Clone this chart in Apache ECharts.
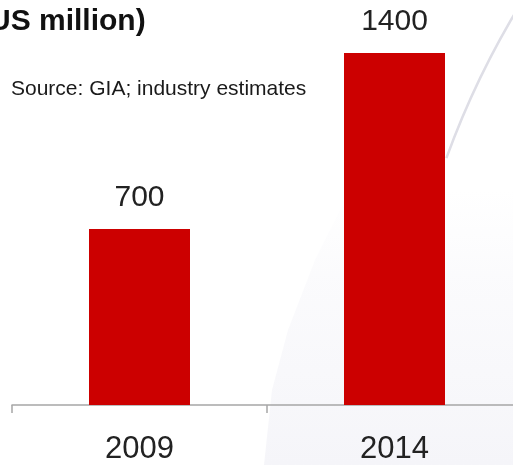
<!DOCTYPE html>
<html>
<head>
<meta charset="utf-8">
<script src="https://cdn.jsdelivr.net/npm/echarts@6/dist/echarts.min.js"></script>
<style>
html,body{margin:0;padding:0;background:#fff;overflow:hidden;}
#chart{width:522px;height:465px;}
</style>
</head>
<body>
<div id="chart"></div>
<script>
const categories = ['2009', '2014'];
const values = [700, 1400];
const titleText = '(US million)';
const sourceText = 'Source: GIA; industry estimates';

const FONT = "'Liberation Sans', Arial, sans-serif";
const chart = echarts.init(document.getElementById('chart'), null, {renderer: 'canvas'});

chart.setOption({
  backgroundColor: '#ffffff',
  animation: false,
  title: [
    {
      text: titleText,
      left: -26,
      top: 2,
      textStyle: {fontFamily: FONT, fontSize: 30, fontWeight: 'bold', color: '#111111'}
    },
    {
      text: sourceText,
      left: 6,
      top: 74,
      textStyle: {fontFamily: FONT, fontSize: 21, fontWeight: 'normal', color: '#1a1a1a'}
    }
  ],
  graphic: [
    {
      type: 'polygon',
      z: -10,
      silent: true,
      shape: {points: [[350, 190], [315, 260], [288, 330], [272, 390], [264, 465], [530, 465], [530, 190]]},
      style: {
        fill: new echarts.graphic.LinearGradient(0, 0, 0, 1, [
          {offset: 0, color: 'rgba(246,246,250,0)'},
          {offset: 0.35, color: 'rgba(246,246,250,0.5)'},
          {offset: 1, color: 'rgba(245,245,249,1)'}
        ])
      }
    },
    {
      type: 'arc',
      z: -9,
      silent: true,
      shape: {cx: 1250, cy: 450, r: 855, startAngle: 3.49, endAngle: 3.80, clockwise: true},
      style: {stroke: '#dedee6', lineWidth: 2.5, fill: null}
    }
  ],
  grid: {left: 12, right: 0, top: 53, height: 352, containLabel: false},
  xAxis: {
    type: 'category',
    data: categories,
    axisLine: {show: true, lineStyle: {color: '#a6a6a6', width: 1.5}},
    axisTick: {show: true, alignWithLabel: false, length: 8, lineStyle: {color: '#a6a6a6', width: 1.5}},
    axisLabel: {fontFamily: FONT, fontSize: 31, color: '#222222', margin: 29}
  },
  yAxis: {
    type: 'value',
    min: 0,
    max: 1400,
    show: false,
    splitLine: {show: false}
  },
  series: [{
    type: 'bar',
    data: values,
    barWidth: 101,
    itemStyle: {color: '#cc0000'},
    label: {
      show: true,
      position: 'top',
      distance: 16,
      fontFamily: FONT,
      fontSize: 30,
      color: '#222222'
    }
  }]
});
</script>
</body>
</html>
